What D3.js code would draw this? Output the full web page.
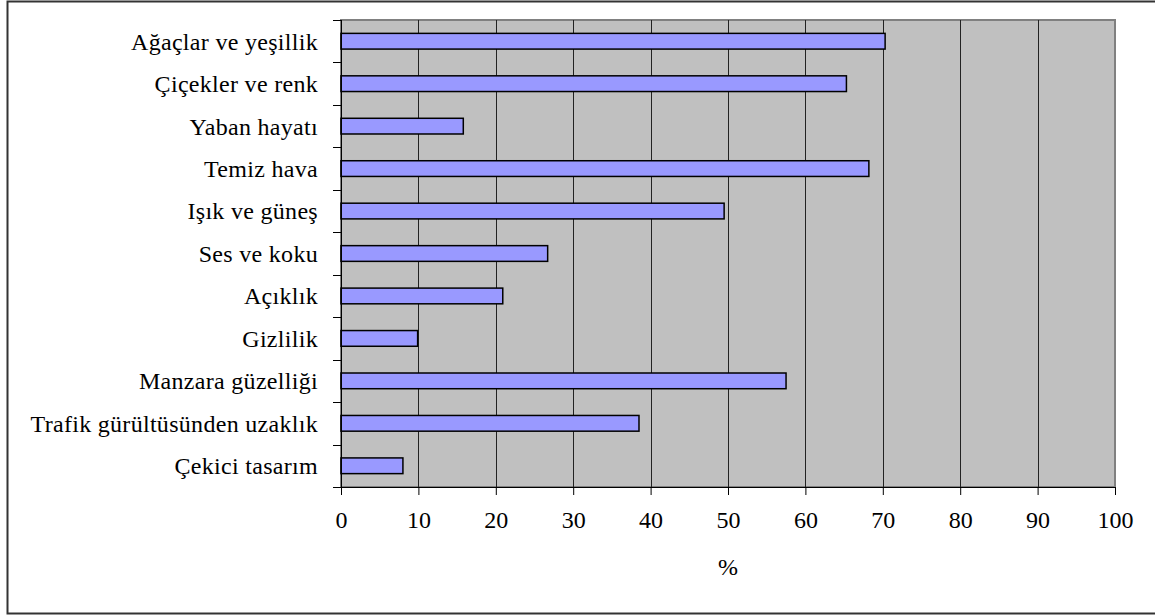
<!DOCTYPE html>
<html>
<head>
<meta charset="UTF-8">
<title>Bar chart</title>
<script src="https://d3js.org/d3.v7.min.js"></script>
<style>
    body { margin: 0; background: #fff; }
</style>
</head>
<body>
<div id="chart"></div>
<script>
    const categories = ["Ağaçlar ve yeşillik", "Çiçekler ve renk", "Yaban hayatı", "Temiz hava",
        "Işık ve güneş", "Ses ve koku", "Açıklık", "Gizlilik", "Manzara güzelliği",
        "Trafik gürültüsünden uzaklık", "Çekici tasarım"];
    const values = [70.3, 65.3, 15.8, 68.2, 49.5, 26.7, 20.9, 9.9, 57.5, 38.5, 8.0];
    const xTicks = [0, 10, 20, 30, 40, 50, 60, 70, 80, 90, 100];
    const axisTitle = "%";

    const W = 1155, H = 616;
    const margin = {top: 20, right: 40, bottom: 129, left: 341};
    const width = W - margin.left - margin.right;
    const height = H - margin.top - margin.bottom;
    const serif = '"Liberation Serif"';

    const svg = d3.select("#chart").append("svg")
        .attr("width", W).attr("height", H);

    // outer frame
    svg.append("rect")
        .attr("x", 7.5).attr("y", 1.5)
        .attr("width", W + 10).attr("height", 612)
        .attr("fill", "none").attr("stroke", "#333").attr("stroke-width", 2);

    const g = svg.append("g").attr("transform", `translate(${margin.left},${margin.top})`);

    const x = d3.scaleLinear().domain([0, 100]).range([0, width]);
    const y = d3.scaleBand().domain(categories).range([0, height]).paddingInner(0.63).paddingOuter(0.315);

    // plot background
    g.append("rect")
        .attr("width", width).attr("height", height)
        .attr("fill", "#c0c0c0").attr("stroke", "#808080").attr("stroke-width", 2);

    // gridlines
    g.selectAll("line.grid")
        .data(xTicks.slice(1, -1))
        .enter().append("line")
        .attr("class", "grid")
        .attr("x1", d => Math.round(x(d)) + 0.5).attr("x2", d => Math.round(x(d)) + 0.5)
        .attr("y1", 0).attr("y2", height)
        .attr("stroke", "#222").attr("stroke-width", 1);

    // bars
    g.selectAll("rect.bar")
        .data(categories)
        .enter().append("rect")
        .attr("class", "bar")
        .attr("x", 0)
        .attr("y", d => y(d))
        .attr("width", (d, i) => x(values[i]))
        .attr("height", y.bandwidth())
        .attr("fill", "#9999ff")
        .attr("stroke", "#000").attr("stroke-width", 1.5);

    // y axis: band boundary ticks
    const yAxis = g.append("g").attr("class", "y-axis");
    yAxis.append("line")
        .attr("x1", 0.5).attr("x2", 0.5).attr("y1", 0).attr("y2", height + 8)
        .attr("stroke", "#000");
    const step = height / categories.length;
    yAxis.selectAll("line.tick")
        .data(d3.range(categories.length + 1))
        .enter().append("line")
        .attr("class", "tick")
        .attr("x1", -8).attr("x2", 0)
        .attr("y1", d => Math.round(d * step) + 0.5).attr("y2", d => Math.round(d * step) + 0.5)
        .attr("stroke", "#000");
    yAxis.selectAll("text")
        .data(categories)
        .enter().append("text")
        .attr("x", -23)
        .attr("y", d => y(d) + y.bandwidth() / 2)
        .attr("dy", "0.35em")
        .attr("text-anchor", "end")
        .style("font-family", serif)
        .style("font-size", "24px")
        .style("letter-spacing", "0.3px")
        .style("fill", "#000")
        .text(d => d);

    // x axis
    const xAxis = g.append("g")
        .attr("transform", `translate(0,${height})`)
        .call(d3.axisBottom(x).tickValues(xTicks).tickSize(8).tickPadding(16).tickFormat(d3.format("d")));
    xAxis.select(".domain").attr("stroke", "#000").attr("d", `M-8,0.5H${width}`);
    xAxis.selectAll(".tick line").attr("stroke", "#000");
    xAxis.selectAll(".tick text")
        .style("font-family", serif)
        .style("font-size", "24px")
        .style("fill", "#000");

    g.append("text")
        .attr("x", width / 2)
        .attr("y", height + 88)
        .attr("text-anchor", "middle")
        .style("font-family", serif)
        .style("font-size", "24px")
        .style("fill", "#000")
        .text(axisTitle);
</script>
</body>
</html>
